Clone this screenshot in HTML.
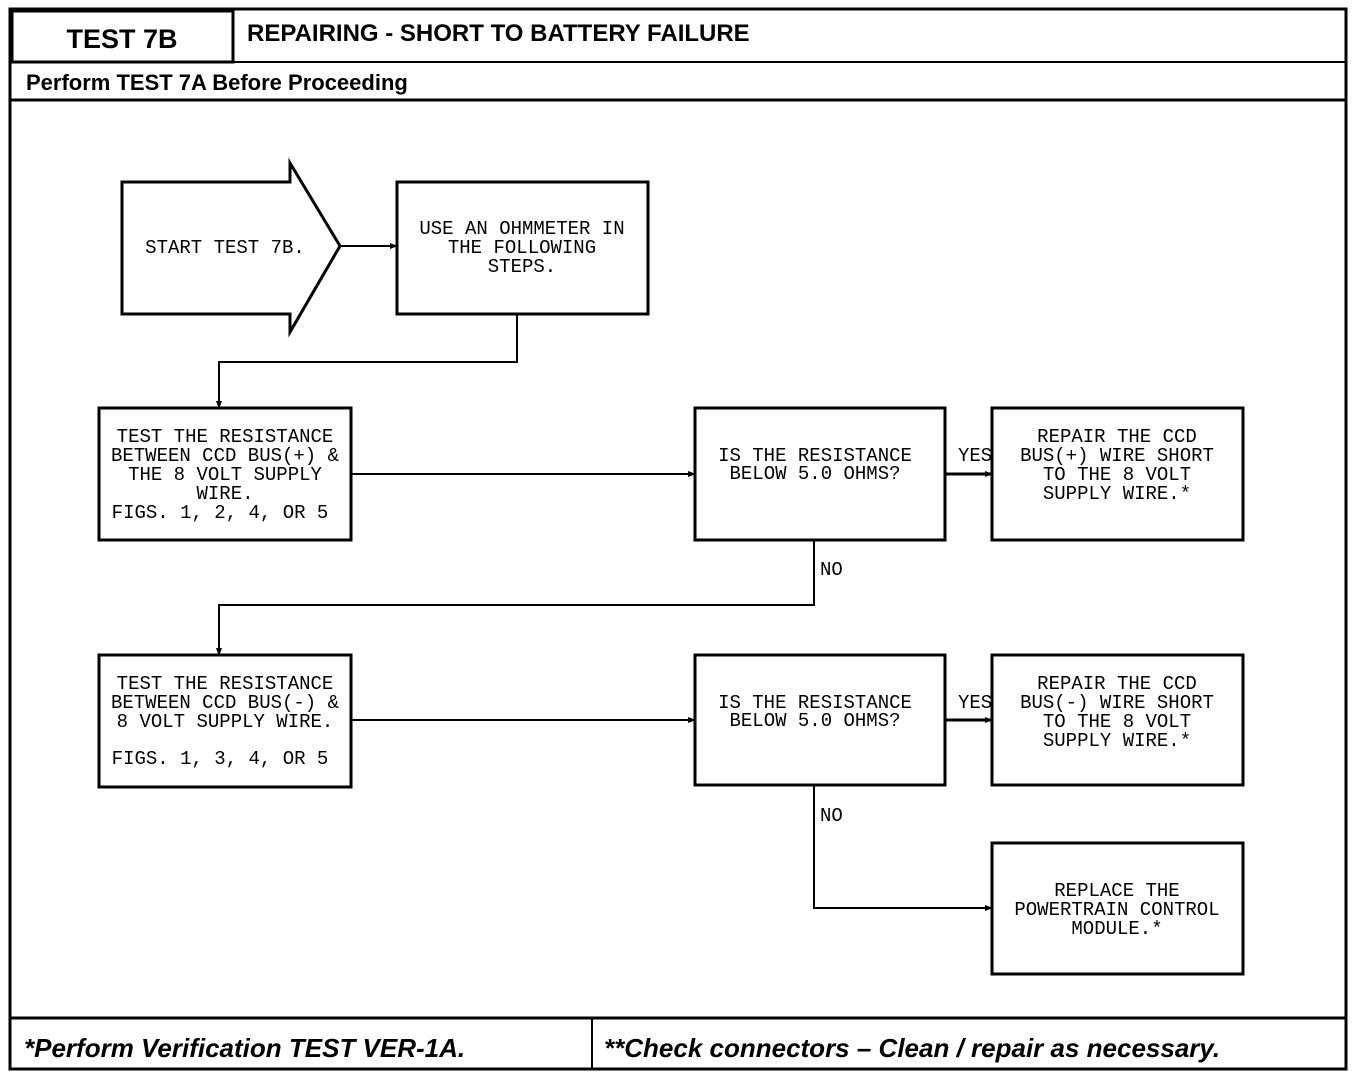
<!DOCTYPE html>
<html><head><style>
html,body{margin:0;padding:0;background:#fff;}
svg{display:block;}
.t{font-family:"Liberation Mono",monospace;font-size:19px;fill:#000;}
.h{font-family:"Liberation Sans",sans-serif;font-weight:bold;fill:#000;}
</style></head><body>
<svg width="1360" height="1078" viewBox="0 0 1360 1078" xmlns="http://www.w3.org/2000/svg">
<defs><marker id="a" markerWidth="8" markerHeight="8" refX="7" refY="4" orient="auto" markerUnits="userSpaceOnUse"><path d="M0,1 L8,4 L0,7 Z" fill="#000"/></marker></defs>
<g fill="none" stroke="#000" stroke-width="3">
<rect x="10" y="9" width="1336" height="1060"/>
<rect x="12" y="11" width="221" height="51"/>
<line x1="10" y1="62" x2="1346" y2="62" stroke-width="2"/>
<line x1="10" y1="100" x2="1346" y2="100"/>
<line x1="10" y1="1018" x2="1346" y2="1018"/>
<line x1="592" y1="1018" x2="592" y2="1069" stroke-width="2"/>
<path d="M122,182 H290 V163 L340,246 L290,332 V314 H122 Z"/>
<rect x="397" y="182" width="251" height="132"/>
<rect x="99" y="408" width="252" height="132"/>
<rect x="695" y="408" width="250" height="132"/>
<rect x="992" y="408" width="251" height="132"/>
<rect x="99" y="655" width="252" height="132"/>
<rect x="695" y="655" width="250" height="130"/>
<rect x="992" y="655" width="251" height="130"/>
<rect x="992" y="843" width="251" height="131"/>
</g>
<g fill="none" stroke="#000" stroke-width="2" marker-end="url(#a)">
<line x1="340" y1="246" x2="397" y2="246"/>
<path d="M517,314 V362 H219 V408"/>
<line x1="351" y1="474" x2="695" y2="474"/>
<line x1="945" y1="474" x2="992" y2="474" stroke-width="3"/>
<path d="M814,540 V605 H219 V655"/>
<line x1="351" y1="720" x2="695" y2="720"/>
<line x1="945" y1="720" x2="992" y2="720" stroke-width="3"/>
<path d="M814,785 V908 H992"/>
</g>
<text class="h" x="122" y="48" font-size="27" text-anchor="middle">TEST 7B</text>
<text class="h" x="247" y="41" font-size="24">REPAIRING - SHORT TO BATTERY FAILURE</text>
<text class="h" x="26" y="90" font-size="22">Perform TEST 7A Before Proceeding</text>
<text class="h" x="24" y="1057" font-size="26" font-style="italic">*Perform Verification TEST VER-1A.</text>
<text class="h" x="604" y="1057" font-size="26" font-style="italic">**Check connectors – Clean / repair as necessary.</text>
<g class="t" text-anchor="middle">
<text x="225" y="253">START TEST 7B.</text>
<text x="522" y="234">USE AN OHMMETER IN</text>
<text x="522" y="253">THE FOLLOWING</text>
<text x="522" y="272">STEPS.</text>
<text x="225" y="442">TEST THE RESISTANCE</text>
<text x="225" y="461">BETWEEN CCD BUS(+) &amp;</text>
<text x="225" y="480">THE 8 VOLT SUPPLY</text>
<text x="225" y="499">WIRE.</text>
<text x="220" y="518">FIGS. 1, 2, 4, OR 5</text>
<text x="815" y="461">IS THE RESISTANCE</text>
<text x="815" y="479">BELOW 5.0 OHMS?</text>
<text x="1117" y="442">REPAIR THE CCD</text>
<text x="1117" y="461">BUS(+) WIRE SHORT</text>
<text x="1117" y="480">TO THE 8 VOLT</text>
<text x="1117" y="499">SUPPLY WIRE.*</text>
<text x="225" y="689">TEST THE RESISTANCE</text>
<text x="225" y="708">BETWEEN CCD BUS(-) &amp;</text>
<text x="225" y="727">8 VOLT SUPPLY WIRE.</text>
<text x="220" y="764">FIGS. 1, 3, 4, OR 5</text>
<text x="815" y="708">IS THE RESISTANCE</text>
<text x="815" y="726">BELOW 5.0 OHMS?</text>
<text x="1117" y="689">REPAIR THE CCD</text>
<text x="1117" y="708">BUS(-) WIRE SHORT</text>
<text x="1117" y="727">TO THE 8 VOLT</text>
<text x="1117" y="746">SUPPLY WIRE.*</text>
<text x="1117" y="896">REPLACE THE</text>
<text x="1117" y="915">POWERTRAIN CONTROL</text>
<text x="1117" y="934">MODULE.*</text>
</g>
<g class="t">
<text x="958" y="461">YES</text>
<text x="958" y="708">YES</text>
<text x="820" y="575">NO</text>
<text x="820" y="821">NO</text>
</g>
</svg>
</body></html>
